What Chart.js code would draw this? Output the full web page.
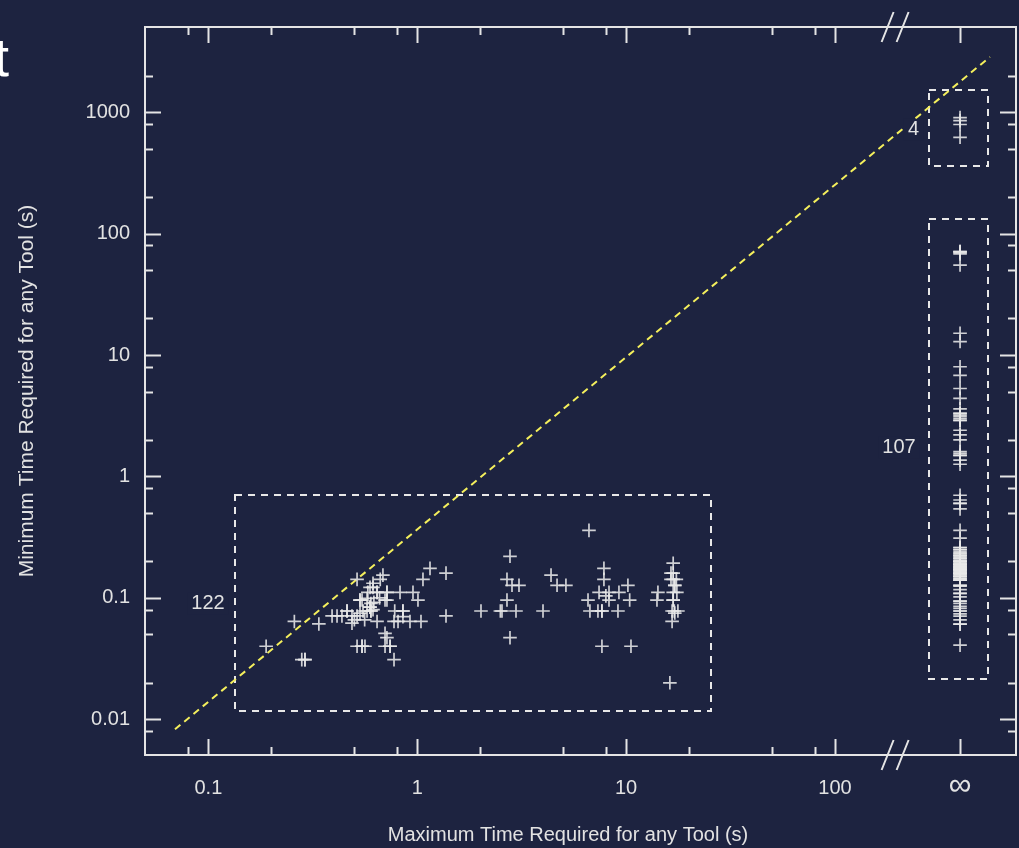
<!DOCTYPE html>
<html>
<head>
<meta charset="utf-8">
<script src="https://cdn.jsdelivr.net/npm/chart.js@4.4.1/dist/chart.umd.min.js"></script>
<style>
html,body{margin:0;padding:0;background:#1d2340;}
canvas{display:block;}
</style>
</head>
<body>
<canvas id="c" width="1019" height="848"></canvas>
<script>
// ---------- data ----------
const INF = 397;          // x position standing for "∞" (tool never finished)
const BREAK_X = 194;      // where the x axis is broken

const xTickValues = [0.08,0.1,0.2,0.5,0.8,1,2,5,8,10,20,50,80,100,INF];
const xTickLabels = {0.1:'0.1', 1:'1', 10:'10', 100:'100'};
const yTickValues = [0.008,0.01,0.02,0.05,0.08,0.1,0.2,0.5,0.8,1,2,5,8,10,20,50,80,100,200,500,800,1000,2000];
const yTickLabels = {0.01:'0.01', 0.1:'0.1', 1:'1', 10:'10', 100:'100', 1000:'1000'};

// finite runs: maximum time (x) vs minimum time (y), seconds
const finiteMax = [0.189,0.258,0.280,0.290,0.338,0.391,0.413,0.436,0.461,0.487,0.515,0.532,0.550,0.575,0.594,0.600,0.614,0.487,0.642,0.532,
  0.544,0.575,0.515,0.594,0.614,0.614,0.685,0.665,1.151,1.373,1.065,0.716,0.827,0.954,0.716,1.008,0.774,0.809,0.854,0.923,
  1.042,1.373,0.701,0.716,0.515,0.544,0.562,0.701,0.741,0.774,0.780,0.854,0.580,0.642,2.019,2.545,2.970,2.689,2.689,2.842,
  3.070,2.780,2.780,4.37,4.67,5.15,4.00,6.64,7.83,7.83,7.42,8.28,9.24,10.2,6.57,8.28,10.4,6.71,7.33,7.66,
  9.14,7.66,10.55,14.2,14.05,16.8,16.8,16.8,17.1,17.5,16.8,16.6,17.7,17.1,16.6,16.2,16.4,17.4,16.4,17.0,
  8.0,2.50,0.532,0.594,0.642,0.716,0.854,0.461,0.600,0.701,0.544,0.741,0.290,16.8,16.8,17.1,7.66,0.66,0.60,0.56,
  0.50,0.62];
const finiteMin = [0.040,0.064,0.031,0.031,0.061,0.071,0.071,0.071,0.078,0.071,0.071,0.075,0.078,0.078,0.084,0.078,0.080,0.062,0.064,0.096,
  0.096,0.099,0.142,0.122,0.122,0.132,0.154,0.142,0.175,0.160,0.142,0.111,0.111,0.111,0.096,0.096,0.064,0.064,0.070,0.064,
  0.064,0.071,0.051,0.047,0.040,0.040,0.040,0.040,0.040,0.031,0.078,0.078,0.111,0.111,0.078,0.078,0.078,0.096,0.142,0.127,
  0.127,0.220,0.047,0.154,0.127,0.127,0.078,0.360,0.175,0.142,0.111,0.111,0.111,0.127,0.096,0.096,0.096,0.078,0.078,0.078,
  0.078,0.040,0.040,0.111,0.096,0.193,0.160,0.142,0.127,0.111,0.096,0.078,0.078,0.075,0.064,0.020,0.142,0.142,0.160,0.078,
  0.104,0.078,0.096,0.084,0.111,0.111,0.078,0.078,0.078,0.096,0.040,0.040,0.031,0.111,0.096,0.127,0.078,0.100,0.090,0.066,
  0.066,0.092];

// runs where some tool never finished (x = ∞): minimum time, seconds
const infMinLower = [71,71,70,68,55,15.1,12.9,8.0,6.8,5.3,4.4,3.6,3.3,3.3,3.2,3.1,3.0,2.9,2.9,2.4,2.2,2.0,
  1.6,1.55,1.49,1.49,1.36,1.26,0.70,0.64,0.60,0.60,0.54,0.36,0.31,0.26,0.26,0.25,0.25,
  0.224,0.224,0.22,0.215,0.212,0.21,0.205,0.20,0.20,0.20,0.195,0.19,0.19,0.189,0.185,0.185,0.18,0.18,0.179,0.175,
  0.172,0.172,0.17,0.169,0.165,0.165,0.16,0.16,0.16,0.156,0.155,0.151,0.15,0.15,0.145,0.145,0.14,0.14,0.14,
  0.127,0.127,0.125,0.117,0.109,0.109,0.102,0.094,0.094,0.09,0.085,0.082,0.078,0.078,0.074,0.0707,0.066,0.0608,0.0608,0.0408,
  0.23,0.235,0.24,0.17,0.175,0.2,0.19,0.15,0.16];
const infMinUpper = [900,850,790,620];

// reference diagonal (end points)
const diagX = [0.0692, 552];
const diagY = [0.00828, 2844];

// group annotations
const groupLabels = ['122','107','4'];
const groupBoxX0 = [0.134, 282, 282];
const groupBoxX1 = [25.5, 540, 540];
const groupBoxY0 = [0.0117, 0.0216, 363];
const groupBoxY1 = [0.698, 131.7, 1514];
const groupLabelX = [0.0996, 202.5, 237.6];
const groupLabelY = [0.0904, 1.734, 714];

const xTitle = 'Maximum Time Required for any Tool (s)';
const yTitle = 'Minimum Time Required for any Tool (s)';

// ---------- styling ----------
const BG = '#1d2340';
const AXIS = '#e4e4e4';
const TEXT = '#e2e2e2';
const FONT = '"Liberation Sans", Arial, Helvetica, sans-serif';

const decor = {
  id: 'decor',
  beforeDraw(chart) {
    const {ctx, width, height} = chart;
    ctx.save();
    ctx.fillStyle = BG;
    ctx.fillRect(0, 0, width, height);
    ctx.fillStyle = '#ffffff';
    ctx.font = '54px ' + FONT;
    ctx.textAlign = 'right';
    ctx.textBaseline = 'alphabetic';
    ctx.fillText('t', 9, 76);
    ctx.restore();
  },
  beforeDatasetsDraw(chart) {
    const {ctx, scales: {x, y}} = chart;
    ctx.save();
    ctx.strokeStyle = '#e8e8e8';
    ctx.lineWidth = 2;
    ctx.setLineDash([7, 6]);
    for (let i = 0; i < groupLabels.length; i++) {
      const x0 = Math.round(x.getPixelForValue(groupBoxX0[i]));
      const x1 = Math.round(x.getPixelForValue(groupBoxX1[i]));
      const y0 = Math.round(y.getPixelForValue(groupBoxY1[i]));
      const y1 = Math.round(y.getPixelForValue(groupBoxY0[i]));
      ctx.strokeRect(x0, y0, x1 - x0, y1 - y0);
    }
    ctx.restore();
  },
  afterDatasetsDraw(chart) {
    const {ctx, scales: {x, y}} = chart;
    ctx.save();
    ctx.font = '20px ' + FONT;
    ctx.textAlign = 'center';
    ctx.textBaseline = 'middle';
    for (let i = 0; i < groupLabels.length; i++) {
      const px = x.getPixelForValue(groupLabelX[i]);
      const py = y.getPixelForValue(groupLabelY[i]);
      const w = ctx.measureText(groupLabels[i]).width + 8;
      ctx.fillStyle = BG;
      ctx.fillRect(px - w / 2, py - 11, w, 22);
      ctx.fillStyle = TEXT;
      ctx.fillText(groupLabels[i], px, py);
    }
    ctx.restore();
  },
  afterDraw(chart) {
    const {ctx, chartArea: a, scales: {x, y}} = chart;
    ctx.save();
    ctx.strokeStyle = AXIS;
    ctx.lineWidth = 2;
    ctx.strokeRect(a.left, a.top, a.right - a.left, a.bottom - a.top);
    ctx.beginPath();
    xTickValues.forEach(v => {
      const px = Math.round(x.getPixelForValue(v)) + 0.5;
      const len = (xTickLabels[v] || v === INF) ? 16 : 8;
      ctx.moveTo(px, a.bottom); ctx.lineTo(px, a.bottom - len);
      ctx.moveTo(px, a.top); ctx.lineTo(px, a.top + len);
    });
    yTickValues.forEach(v => {
      const py = Math.round(y.getPixelForValue(v)) + 0.5;
      const len = yTickLabels[v] ? 16 : 8;
      ctx.moveTo(a.left, py); ctx.lineTo(a.left + len, py);
      ctx.moveTo(a.right, py); ctx.lineTo(a.right - len, py);
    });
    ctx.stroke();
    // axis break marks
    const bx = x.getPixelForValue(BREAK_X);
    ctx.beginPath();
    [a.top, a.bottom].forEach(cy => {
      [-7.5, 7.5].forEach(off => {
        ctx.moveTo(bx + off - 6, cy + 15);
        ctx.lineTo(bx + off + 6, cy - 15);
      });
    });
    ctx.stroke();
    // infinity tick label
    ctx.fillStyle = TEXT;
    ctx.font = '32px ' + FONT;
    ctx.textAlign = 'center';
    ctx.textBaseline = 'middle';
    ctx.fillText('\u221E', x.getPixelForValue(INF), 786);
    // x axis title (sits a little left of the plot centre)
    ctx.font = '20px ' + FONT;
    ctx.textBaseline = 'alphabetic';
    ctx.fillText(xTitle, 568, 841);
    ctx.restore();
  }
};

const finitePoints = finiteMax.map((v, i) => ({x: v, y: finiteMin[i]}));
const upperPoints = infMinUpper.map(v => ({x: INF, y: v}));
const lowerPoints = infMinLower.map(v => ({x: INF, y: v}));
const diagPoints = diagX.map((v, i) => ({x: v, y: diagY[i]}));

const markerStyle = {
  type: 'scatter',
  pointStyle: 'cross',
  pointRadius: 6.8,
  pointBorderWidth: 1.7,
  borderColor: 'rgba(232,232,232,0.88)',
  backgroundColor: 'rgba(232,232,232,0.88)',
  showLine: false,
  order: 1
};

new Chart(document.getElementById('c'), {
  data: {
    datasets: [
      Object.assign({label: 'finite', data: finitePoints}, markerStyle),
      Object.assign({label: 'inf-lower', data: lowerPoints}, markerStyle),
      Object.assign({label: 'inf-upper', data: upperPoints}, markerStyle),
      {
        type: 'line', label: 'diagonal', data: diagPoints,
        borderColor: '#f4ef5c', borderWidth: 2, borderDash: [7, 5],
        pointRadius: 0, fill: false, order: 3
      }
    ]
  },
  options: {
    responsive: false,
    animation: false,
    devicePixelRatio: 1,
    events: [],
    layout: {autoPadding: false, padding: {left: 0, top: 26, right: 3, bottom: 0}},
    plugins: {legend: {display: false}, tooltip: {enabled: false}},
    scales: {
      x: {
        type: 'logarithmic', position: 'bottom',
        min: 0.04972, max: 735.6,
        grid: {display: false, drawTicks: false},
        border: {display: false},
        afterBuildTicks: s => { s.ticks = xTickValues.map(v => ({value: v})); },
        afterFit: s => { s.height = 93; },
        ticks: {
          autoSkip: false, maxRotation: 0, minRotation: 0, padding: 21,
          color: TEXT, font: {family: FONT, size: 20},
          callback: v => (v === INF ? '' : (xTickLabels[v] || ''))
        },
        title: {display: false}
      },
      y: {
        type: 'logarithmic', position: 'left',
        min: 0.005087, max: 5018,
        grid: {display: false, drawTicks: false},
        border: {display: false},
        afterBuildTicks: s => { s.ticks = yTickValues.map(v => ({value: v})); },
        afterFit: s => { s.width = 145; },
        ticks: {
          autoSkip: false, padding: 15,
          color: TEXT, font: {family: FONT, size: 20},
          callback: v => (yTickLabels[v] || '')
        },
        title: {
          display: true, text: yTitle,
          color: TEXT, font: {family: FONT, size: 21}, padding: {top: 15, bottom: 0}
        }
      }
    }
  },
  plugins: [decor]
});
</script>
</body>
</html>
